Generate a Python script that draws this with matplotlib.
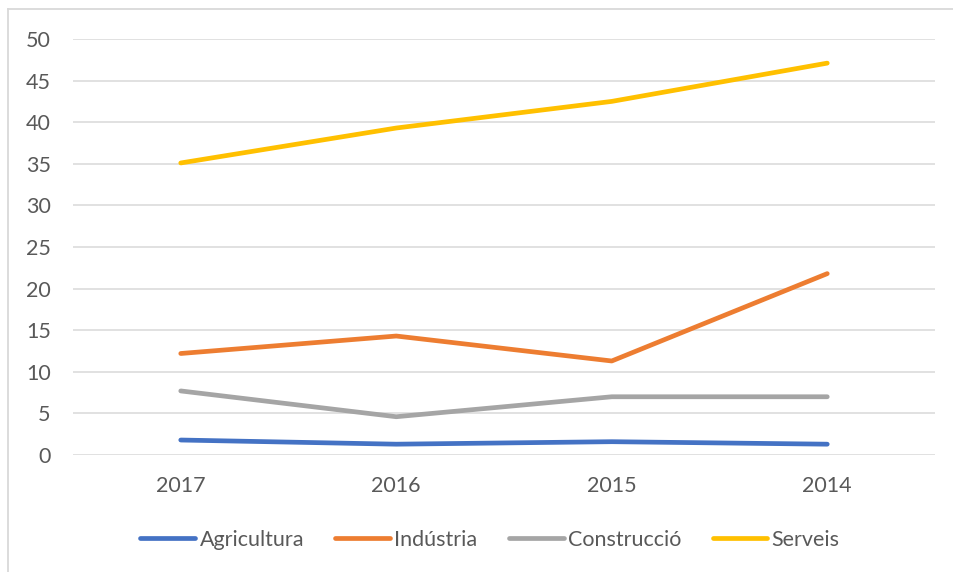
import matplotlib.pyplot as plt
from matplotlib.lines import Line2D

# Values
years = ['2017', '2016', '2015', '2014']
agricultura = [1.8, 1.3, 1.6, 1.3]
industria = [12.2, 14.3, 11.3, 21.8]
construccio = [7.7, 4.6, 7.0, 7.0]
serveis = [35.1, 39.3, 42.5, 47.1]

series_names = ['Agricultura', 'Indústria', 'Construcció', 'Serveis']
series_colors = ['#4472C4', '#ED7D31', '#A5A5A5', '#FFC000']

plt.rcParams['font.family'] = ['Lato', 'DejaVu Sans']
text_color = '#595959'

fig = plt.figure(figsize=(9.54, 5.72), dpi=100)
ax = fig.add_axes([73 / 954, 1 - 455 / 572, (935 - 73) / 954, (455 - 39) / 572])

x = range(len(years))
for vals, name, col in zip([agricultura, industria, construccio, serveis], series_names, series_colors):
    ax.plot(x, vals, color=col, lw=3.4, label=name, solid_capstyle='round', solid_joinstyle='round')

ax.set_xlim(-0.5, len(years) - 0.5)
ax.set_ylim(0, 50)
ax.set_yticks(range(0, 51, 5))
ax.set_xticks(list(x))
ax.set_xticklabels(years)
ax.grid(axis='y', color='#D9D9D9', lw=1.1)
ax.set_axisbelow(True)
for s in ax.spines.values():
    s.set_visible(False)
ax.tick_params(axis='both', length=0, labelsize=15.5, labelcolor=text_color)
ax.tick_params(axis='y', pad=16)
ax.tick_params(axis='x', pad=15)

handles = [Line2D([0], [0], color=c, lw=3.4, solid_capstyle='round') for c in series_colors]
fig.legend(handles, series_names, loc='center', bbox_to_anchor=(490 / 954, 1 - 540 / 572), ncol=4,
           frameon=False, fontsize=15.5, labelcolor=text_color, handlelength=2.55,
           handletextpad=0.2, columnspacing=1.45)

# chart outer border (left and top visible)
fig.add_artist(Line2D([8 / 954, 8 / 954], [0, 1 - 9 / 572], color='#D9D9D9', lw=1.3))
fig.add_artist(Line2D([8 / 954, 1], [1 - 9 / 572, 1 - 9 / 572], color='#D9D9D9', lw=1.3))

fig.savefig('out.png', dpi=100, facecolor='white')
